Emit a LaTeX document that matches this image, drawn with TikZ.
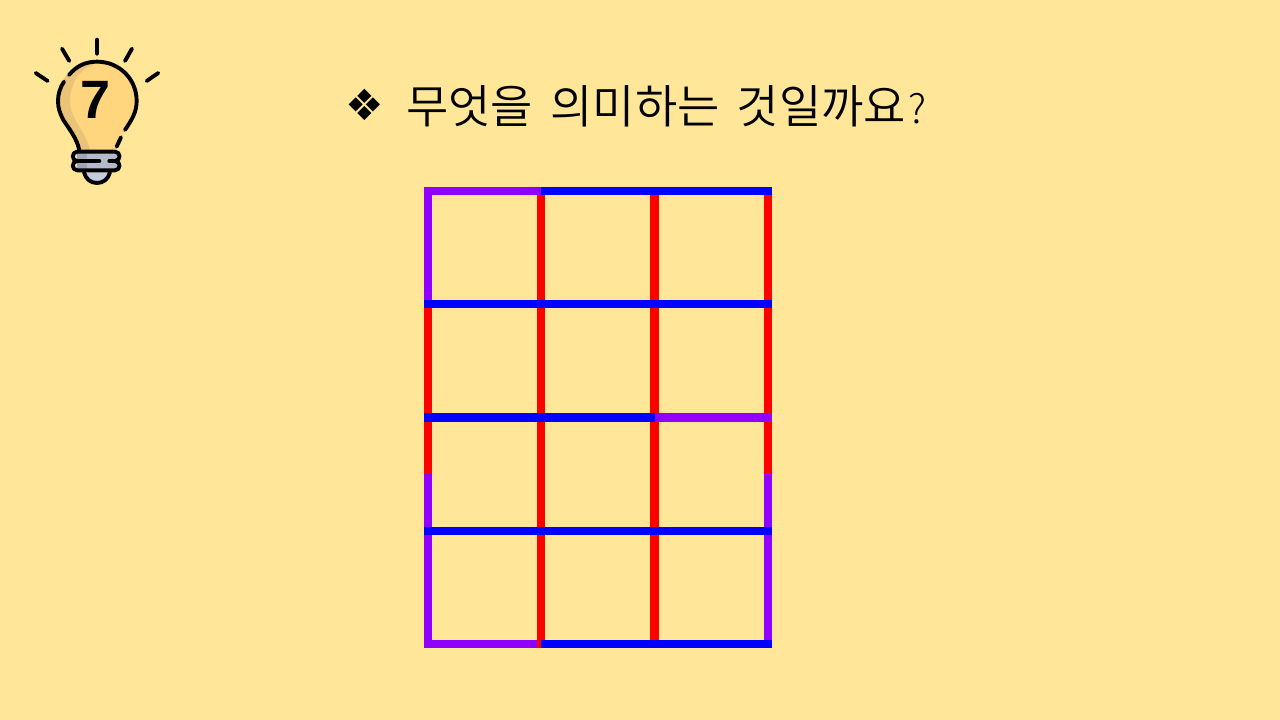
\documentclass[tikz,border=0pt]{standalone}
\usepackage{fontspec}
\setmainfont{Liberation Sans}
\newfontfamily\krfont{Noto Sans CJK KR DemiLight}
\newfontfamily\qfont{Noto Sans CJK KR Light}
\newfontfamily\symfont{DejaVu Sans}
\definecolor{bg}{HTML}{FFE699}
\definecolor{gr}{HTML}{FF0000}
\definecolor{gb}{HTML}{0000FF}
\definecolor{gp}{HTML}{8F00FF}
\definecolor{bulb}{HTML}{FFD57E}
\definecolor{bulbdark}{HTML}{E9C377}
\definecolor{metal}{HTML}{B4BACB}
\definecolor{metaldark}{HTML}{9FA5B6}
\definecolor{metallight}{HTML}{C4CCDF}
\tikzset{
  seg/.style={line width=8.4pt,line cap=butt},
  red seg/.style={seg,draw=gr},
  blue seg/.style={seg,draw=gb},
  purple seg/.style={seg,draw=gp},
  ink/.style={draw=black,line width=3.9pt,line cap=round,line join=round},
}
\begin{document}
\begin{tikzpicture}[x=1pt,y=-1pt]
\useasboundingbox (0,0) rectangle (1280,720);
\fill[bg] (0,0) rectangle (1280,720);
% light bulb (drawn in zoomed coordinates)
\begin{scope}[shift={(20,25)},x=0.3333pt,y=-0.3333pt]
  \fill[bulb] (231,108) .. controls (298,108) and (352,162) .. (352,228)
    .. controls (352,262) and (335,285) .. (315,315) -- (288,378) -- (178,378)
    .. controls (170,340) and (150,310) .. (130,285)
    .. controls (118,265) and (112,250) .. (112,228)
    .. controls (112,162) and (165,108) .. (231,108) -- cycle;
  \fill[bulbdark] (215,122) .. controls (175,135) and (150,180) .. (150,228)
    .. controls (150,285) and (200,320) .. (210,378) -- (178,378)
    .. controls (170,340) and (150,310) .. (130,285)
    .. controls (118,265) and (112,250) .. (112,228)
    .. controls (112,162) and (165,108) .. (231,108) -- cycle;
  % rays
  \draw[ink] (231,44) -- (231,86);
  \draw[ink] (126,71) -- (148,108);
  \draw[ink] (336,71) -- (315,108);
  \draw[ink] (47,144) -- (83,168);
  \draw[ink] (415,144) -- (380,168);
  % outline
  \draw[ink] (147,150) .. controls (170,122) and (198,110) .. (231,110)
    .. controls (298,110) and (350,162) .. (350,228)
    .. controls (350,262) and (335,285) .. (315,315);
  \draw[ink] (303,337) -- (290,365);
  \draw[ink] (132,170) .. controls (120,188) and (114,208) .. (114,228)
    .. controls (114,250) and (120,265) .. (130,285)
    .. controls (150,315) and (170,340) .. (178,375);
  % base
  \fill[metallight] (192,442) -- (270,442) .. controls (265,462) and (250,474) .. (231,474)
    .. controls (212,474) and (197,462) .. (192,442) -- cycle;
  \draw[ink] (192,442) .. controls (197,462) and (212,474) .. (231,474)
    .. controls (250,474) and (265,462) .. (270,442);
  \fill[metal] (172,380) rectangle (290,436);
  \fill[metaldark] (172,380) rectangle (200,436);
  \draw[ink] (172,380) -- (285,380) .. controls (303,380) and (303,408) .. (285,408)
    .. controls (303,408) and (303,436) .. (285,436) -- (172,436)
    .. controls (154,436) and (154,408) .. (172,408)
    .. controls (154,408) and (154,380) .. (172,380) -- cycle;
  \draw[ink] (172,408) -- (238,408);
  \draw[ink] (268,408) -- (285,408);
\end{scope}
\node[font=\fontsize{54}{54}\selectfont\bfseries,text=black,inner sep=0pt] (seven) at (95.5,99.5) {7};
% title
\node[font=\symfont\fontsize{43}{43}\selectfont,text=black,inner sep=0pt] (mark) at (365,105) {❖};
\node[font=\krfont\fontsize{46}{46}\selectfont,text=black,inner sep=0pt,anchor=west] (title) at (406,106) {무엇을\hspace{7pt} 의미하는\hspace{7pt} 것일까요\hspace{2pt}{\qfont\fontsize{40}{40}\selectfont ?}};
% grid: bottom layer
\draw[purple seg] (424,644) -- (541,644);
\draw[purple seg] (428,187) -- (428,304);
\draw[red seg] (428,304) -- (428,474);
\draw[purple seg] (428,474) -- (428,648);
\draw[red seg] (541,191) -- (541,648);
\draw[red seg] (654.5,191) -- (654.5,648);
\draw[red seg] (768,187) -- (768,474);
\draw[purple seg] (768,474) -- (768,648);
% horizontals
\draw[purple seg] (424,191) -- (541,191);
\draw[blue seg] (541,191) -- (772,191);
\draw[blue seg] (424,304) -- (772,304);
\draw[blue seg] (424,417.5) -- (654.5,417.5);
\draw[purple seg] (654.5,417.5) -- (772,417.5);
\draw[blue seg] (424,531) -- (772,531);
\draw[blue seg] (541,644) -- (772,644);
\end{tikzpicture}
\end{document}
